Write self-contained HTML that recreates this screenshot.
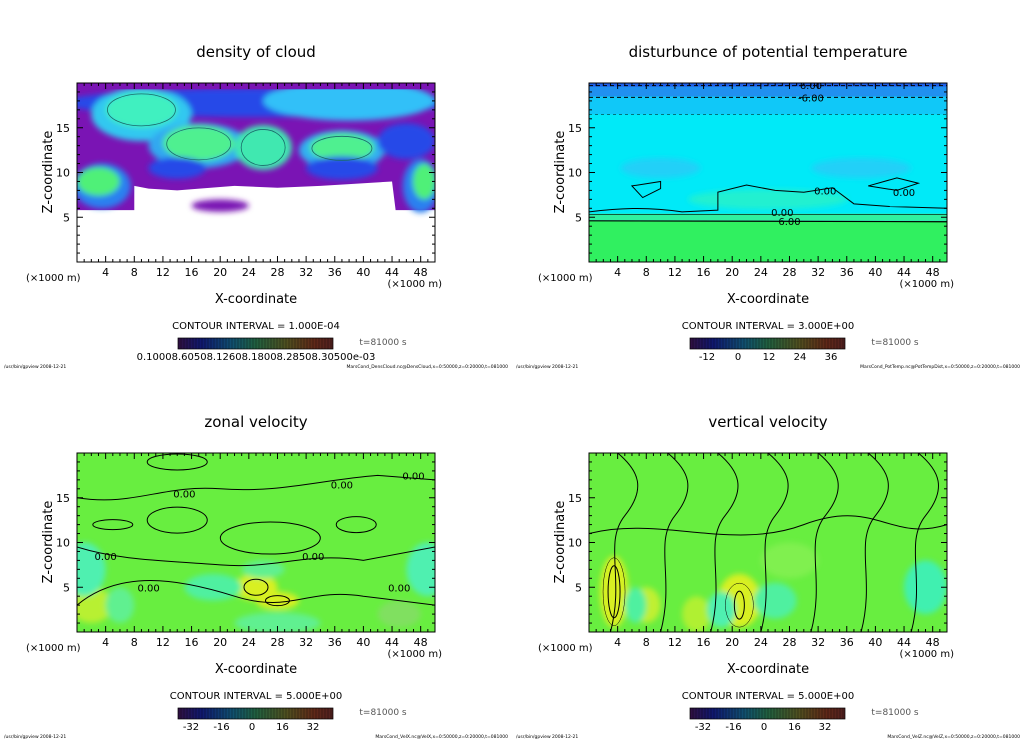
<!DOCTYPE html>
<html><head><meta charset="utf-8"><style>
html,body{margin:0;padding:0;background:#fff;width:1024px;height:740px;overflow:hidden}
svg{display:block;font-family:"DejaVu Sans","Liberation Sans",sans-serif}
</style></head><body>
<svg id="fig" width="1024" height="740" viewBox="0 0 1024 740" xmlns="http://www.w3.org/2000/svg">
<defs>
<filter id="bl" x="-20%" y="-20%" width="140%" height="140%"><feGaussianBlur stdDeviation="3"/></filter>
<filter id="bl2" x="-20%" y="-20%" width="140%" height="140%"><feGaussianBlur stdDeviation="1.5"/></filter>
<linearGradient id="cb" x1="0" x2="1" y1="0" y2="0">
<stop offset="0" stop-color="#301040"/><stop offset="0.15" stop-color="#101870"/><stop offset="0.35" stop-color="#105070"/>
<stop offset="0.5" stop-color="#206040"/><stop offset="0.7" stop-color="#505020"/><stop offset="0.88" stop-color="#602818"/><stop offset="1" stop-color="#502020"/>
</linearGradient>
</defs>
</svg>
<script>
const xTicks=[4,8,12,16,20,24,28,32,36,40,44,48];
const zTicks=[5,10,15];
const titles=["density of cloud","disturbunce of potential temperature","zonal velocity","vertical velocity"];
const intervals=["1.000E-04","3.000E+00","5.000E+00","5.000E+00"];
const cbLabels1=["0.10008.60508.12608.18008.28508.30500e-03"];
const cbLabels2=["-12","0","12","24","36"];
const cbLabels3=["-32","-16","0","16","32"];
const cbLabels4=["-32","-16","0","16","32"];
const footers=["MarsCond_DensCloud.nc@DensCloud,x=0:50000,z=0:20000,t=081000","MarsCond_PotTemp.nc@PotTempDist,x=0:50000,z=0:20000,t=081000","MarsCond_VelX.nc@VelX,x=0:50000,z=0:20000,t=081000","MarsCond_VelZ.nc@VelZ,x=0:50000,z=0:20000,t=081000"];
// purple cloud region outline [x_km, z_km]
const cloudEdge1=[[0,5.8],[8,5.8],[8,8.5],[10,8.2],[14,8],[22,8.5],[28,8.3],[34,8.5],[40,8.8],[44,9],[44.5,5.8],[50,5.8]];
// blobs: [x_km, z_km, rx_km, rz_km, color]
const blobs1=[[25,17.8,27,1.6,"#2848e8"],[38,18,12,2.2,"#30c0f8"],[9,16.5,7,3,"#30c8f0"],[9,17,5,2,"#40f0c0"],[17,13,7,2.5,"#30a8f0"],[17,13.3,5,2,"#50f090"],[26,12.8,4,2.5,"#40e8b0"],[37,12.5,6,2.2,"#30b0f0"],[37,12.8,4.5,1.6,"#50f090"],[3.5,8.5,4,2.5,"#2c80f0"],[3,9,3,1.6,"#50f078"],[48,8.5,2.5,3,"#2c80f0"],[48.5,9,1.6,2,"#50f078"],[20,6.3,4,0.7,"#7a14b4"],[14,10.5,4,1.2,"#2848e8"],[37,10.5,5,1.3,"#2848e8"],[46,13.5,4,2,"#2848e8"]];
const blobs3=[[2,3,3,2,"#b8f030"],[25,5,3,1.5,"#d8f020"],[28,3.5,3,1,"#d8f020"],[1,7,3,3,"#50f0b0"],[49,7,3,3,"#50f0b0"],[19,5,4,1.5,"#50f0a0"],[6,3,2,2,"#60f090"],[45,2,3,1.5,"#80e060"],[28,1,6,1.2,"#60f090"],[26,7,3,1,"#60f090"]];
const blobs4=[[3.5,4.5,2,4,"#d8f020"],[21,3.5,3,3,"#d8f020"],[8,3,2,2,"#c0f030"],[15,2,2,2,"#b0f030"],[18.5,2.5,2,2,"#50f0b0"],[26,3.5,3,2,"#50f0a0"],[47,5,3,3,"#40f0b0"],[6.5,3,1.5,2,"#50f0a0"],[28,8,4,2,"#80f050"]];
const NS="http://www.w3.org/2000/svg";
const fig=document.getElementById('fig');
function el(t,a,p){const e=document.createElementNS(NS,t);for(const k in a)e.setAttribute(k,a[k]);(p||fig).appendChild(e);return e;}
function txt(x,y,s,size,anchor,p){const e=el('text',{x:x,y:y,'font-size':size,'text-anchor':anchor||'middle',fill:'#000'},p);e.textContent=s;return e;}
const panels=[[0,0],[512,0],[0,370],[512,370]];
panels.forEach(([ox,oy],i)=>{
  const g=el('g',{});
  
  
  const X=km=>ox+77+km*7.16, Z=z=>oy+262-z*8.95;
  const L=ox+77,R=ox+435,T=oy+83,B=oy+262;
  const cid='clip'+i;
  const cp=el('clipPath',{id:cid},g);el('rect',{x:L,y:T,width:R-L,height:B-T},cp);
  const plot=el('g',{'clip-path':'url(#'+cid+')'},g);
  
  
  if(i===0){
    el('rect',{x:L,y:T,width:R-L,height:B-T,fill:'#fff'},plot);
    let d=`M${X(-1)} ${Z(21)} L${X(-1)} ${Z(5.8)} `+cloudEdge1.map(p=>`L${X(p[0])} ${Z(p[1])}`).join(' ')+` L${X(51)} ${Z(5.8)} L${X(51)} ${Z(21)} Z`;
    el('path',{d:d,fill:'#7a14b4'},plot);
    const bg=el('g',{filter:'url(#bl)'},plot);
    blobs1.forEach(b=>el('ellipse',{cx:X(b[0]),cy:Z(b[1]),rx:b[2]*7.16,ry:b[3]*8.95,fill:b[4]},bg));
    el('rect',{x:L,y:T,width:R-L,height:Z(19.3)-T,fill:'#7a14b4'},plot);
    const cs=el('g',{stroke:'#1a6a6a','stroke-width':0.8,fill:'none'},plot);
    el('ellipse',{cx:X(17),cy:Z(13.2),rx:32,ry:16},cs);el('ellipse',{cx:X(37),cy:Z(12.7),rx:30,ry:12},cs);
    el('ellipse',{cx:X(9),cy:Z(17),rx:34,ry:16},cs);el('ellipse',{cx:X(26),cy:Z(12.8),rx:22,ry:18},cs);
  } else if(i===1){
    el('rect',{x:L,y:T,width:R-L,height:B-T,fill:'#00eaf8'},plot);
    el('rect',{x:L,y:Z(4.6),width:R-L,height:B-Z(4.6),fill:'#30f060'},plot);
    el('rect',{x:L,y:Z(5.4),width:R-L,height:Z(4.6)-Z(5.4),fill:'#30f0a0'},plot);
    el('rect',{x:L,y:T,width:R-L,height:Z(16.5)-T,fill:'#10c8f8'},plot);
    el('rect',{x:L,y:T,width:R-L,height:Z(18.5)-T,fill:'#2090f0'},plot);
    el('rect',{x:L,y:T,width:R-L,height:Z(19.6)-T,fill:'#2060e8'},plot);
    const bg=el('g',{filter:'url(#bl)'},plot);
    el('ellipse',{cx:X(25),cy:Z(7),rx:80,ry:10,fill:'#20f0d0'},bg);
    el('ellipse',{cx:X(10),cy:Z(10.5),rx:40,ry:10,fill:'#20d0f8'},bg);
    el('ellipse',{cx:X(38),cy:Z(10.5),rx:50,ry:10,fill:'#20d0f8'},bg);
    [[L,Z(19.7)],[L,Z(18.4)]].forEach(p=>el('line',{x1:L,x2:R,y1:p[1],y2:p[1],stroke:'#000','stroke-width':1,'stroke-dasharray':'4,3'},plot));
    el('line',{x1:L,x2:R,y1:Z(16.5),y2:Z(16.5),stroke:'#000','stroke-width':0.5,'stroke-dasharray':'3,3'},plot);
    el('path',{d:`M${L} ${Z(4.6)} L${R} ${Z(4.5)}`,stroke:'#000','stroke-width':1.2,fill:'none'},plot);
    el('path',{d:`M${L} ${Z(5.3)} L${R} ${Z(5.3)}`,stroke:'#000','stroke-width':0.6,fill:'none'},plot);
    el('path',{d:`M${L} ${Z(5.6)} C${X(4)} ${Z(6)} ${X(8)} ${Z(6.2)} ${X(13)} ${Z(5.6)} L${X(18)} ${Z(5.8)} L${X(18)} ${Z(7.8)} L${X(22)} ${Z(8.6)} L${X(26)} ${Z(8)} L${X(30)} ${Z(7.8)} L${X(34)} ${Z(8.3)} L${X(37)} ${Z(6.5)} L${X(42)} ${Z(6.2)} L${R} ${Z(6)}`,stroke:'#000','stroke-width':1,fill:'none'},plot);
    el('path',{d:`M${X(39)} ${Z(8.5)} L${X(43)} ${Z(9.4)} L${X(46)} ${Z(8.8)} L${X(43)} ${Z(8)} Z`,stroke:'#000','stroke-width':1,fill:'none'},plot);
    el('path',{d:`M${X(6)} ${Z(8.5)} L${X(10)} ${Z(9)} L${X(10)} ${Z(8.2)} L${X(7.5)} ${Z(7.2)} Z`,stroke:'#000','stroke-width':1,fill:'none'},plot);
    [['6.00',19.8],['-6.00',18.4],['0.00',5.6],['-6.00',4.6]].forEach(([s,z],k)=>{const t=txt(X(k<2?31:(k==2?27:28)),Z(z)+4,k==3?'6.00':s,10,'middle',plot);});
    txt(X(33),Z(8)+4,'0.00',10,'middle',plot);txt(X(44),Z(7.8)+4,'0.00',10,'middle',plot);
  } else {
    el('rect',{x:L,y:T,width:R-L,height:B-T,fill:'#68ee40'},plot);
    const bg=el('g',{filter:'url(#bl)'},plot);
    (i===2?blobs3:blobs4).forEach(b=>el('ellipse',{cx:X(b[0]),cy:Z(b[1]),rx:b[2]*7.16,ry:b[3]*8.95,fill:b[4]},bg));
    const cs=el('g',{stroke:'#000','stroke-width':1,fill:'none'},plot);
    if(i===2){
      el('path',{d:`M${L} ${Z(15)} C${X(8)} ${Z(14)} ${X(12)} ${Z(16.5)} ${X(20)} ${Z(16)} S${X(34)} ${Z(17)} ${X(42)} ${Z(17.5)} L${R} ${Z(17)}`},cs);
      el('path',{d:`M${L} ${Z(9.5)} C${X(6)} ${Z(8)} ${X(12)} ${Z(8)} ${X(20)} ${Z(7.5)} S${X(32)} ${Z(9)} ${X(40)} ${Z(8)} L${R} ${Z(9.5)}`},cs);
      el('path',{d:`M${L} ${Z(3)} C${X(6)} ${Z(7)} ${X(14)} ${Z(6)} ${X(22)} ${Z(4)} S${X(32)} ${Z(5)} ${X(40)} ${Z(4)} L${R} ${Z(3)}`},cs);
      el('ellipse',{cx:X(25),cy:Z(5),rx:12,ry:8},cs);el('ellipse',{cx:X(28),cy:Z(3.5),rx:12,ry:5},cs);
      el('ellipse',{cx:X(14),cy:Z(12.5),rx:30,ry:13},cs);el('ellipse',{cx:X(27),cy:Z(10.5),rx:50,ry:16},cs);
      el('ellipse',{cx:X(39),cy:Z(12),rx:20,ry:8},cs);el('ellipse',{cx:X(14),cy:Z(19),rx:30,ry:8},cs);
      el('ellipse',{cx:X(5),cy:Z(12),rx:20,ry:5},cs);
      [[4,8.5],[10,5],[15,15.5],[33,8.5],[45,5],[47,17.5],[37,16.5]].forEach(p=>txt(X(p[0]),Z(p[1])+4,'0.00',10,'middle',plot));
    } else {
      for(let k=0;k<7;k++){const x0=3+k*7;el('path',{d:`M${X(x0)} ${B} C${X(x0+2)} ${Z(6)} ${X(x0-1)} ${Z(10)} ${X(x0+2)} ${Z(13)} S${X(x0+4)} ${Z(18)} ${X(x0+1)} ${Z(20)}`},cs);}
      el('ellipse',{cx:X(3.5),cy:Z(4.5),rx:6,ry:26},cs);el('ellipse',{cx:X(3.5),cy:Z(4.5),rx:11,ry:34,'stroke-width':0.5},cs);
      el('ellipse',{cx:X(21),cy:Z(3),rx:5,ry:14},cs);el('ellipse',{cx:X(21),cy:Z(3),rx:14,ry:22,'stroke-width':0.5},cs);
      el('path',{d:`M${L} ${Z(11)} C${X(10)} ${Z(13)} ${X(20)} ${Z(9)} ${X(30)} ${Z(12)} S${X(42)} ${Z(10)} ${R} ${Z(12)}`},cs);
    }
  }
  const ax=el('g',{stroke:'#000','stroke-width':1,fill:'none'},g);
  
  
  el('rect',{x:L,y:T,width:R-L,height:B-T},ax);
  for(let k=1;k<50;k++){const x=X(k),len=(k%4===0)?6:3;if(x>R)break;el('line',{x1:x,x2:x,y1:B,y2:B-len},ax);el('line',{x1:x,x2:x,y1:T,y2:T+len},ax);}
  for(let z=1;z<20;z++){const y=Z(z),len=(z%5===0)?6:3;el('line',{x1:L,x2:L+len,y1:y,y2:y},ax);el('line',{x1:R,x2:R-len,y1:y,y2:y},ax);}
  xTicks.forEach(v=>{const t=txt(X(v),B+14,String(v),11,'middle',g);});
  zTicks.forEach(v=>{const t=txt(L-7,Z(v)+4,String(v),11,'end',g);});
  const tt=txt(ox+256,oy+57,titles[i],15,'middle',g);
  const yt=txt(0,0,'Z-coordinate',13,'middle',g);yt.setAttribute('transform',`translate(${ox+52},${oy+172}) rotate(-90)`);
  const xt=txt(ox+256,oy+303,'X-coordinate',13,'middle',g);
  txt(ox+26,oy+281,'(×1000 m)',10,'start',g);txt(ox+442,oy+287,'(×1000 m)',10,'end',g);
  const ci=txt(ox+256,oy+329,'CONTOUR INTERVAL = '+intervals[i],10,'middle',g);
  txt(ox+383,oy+345,'t=81000 s',9,'middle',g).setAttribute('fill','#555');
  const cb=el('g',{},g);
  el('rect',{x:ox+178,y:oy+338,width:155,height:11,fill:'url(#cb)',stroke:'#000','stroke-width':0.7},cb);
  for(let k=1;k<52;k++)el('line',{x1:ox+178+k*3,x2:ox+178+k*3,y1:oy+338,y2:oy+349,stroke:'#000','stroke-width':0.6,opacity:0.5},cb);
  if(i===0){txt(ox+256,oy+360,cbLabels1[0],10,'middle',g);}
  else{const labs=i===1?cbLabels2:(i===2?cbLabels3:cbLabels4);labs.forEach((s,k)=>txt(ox+183+k*(i===1?31:30.5)+(i===1?12:8),oy+360,s,10,'middle',g));}
  txt(ox+4,oy+368,'/usr/bin/gpview   2008-12-21',4.5,'start',g);
  txt(ox+508,oy+368,footers[i],4.5,'end',g);
});
</script>
</body></html>
